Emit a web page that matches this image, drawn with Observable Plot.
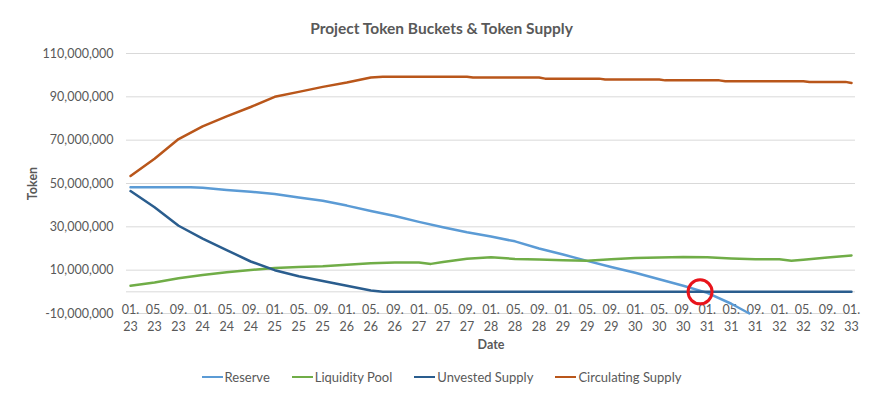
<!DOCTYPE html>
<html><head><meta charset="utf-8">
<script src="https://cdn.jsdelivr.net/npm/d3@7"></script>
<script src="https://cdn.jsdelivr.net/npm/@observablehq/plot@0.6"></script>
<style>
body{margin:0;background:#fff;font-family:Lato,"Open Sans",sans-serif;}
#wrap{width:883px;height:397px;position:relative;overflow:hidden;background:#fff}
#title{position:absolute;top:18px;left:0;width:883px;text-align:center;font-size:15.5px;font-weight:bold;color:#595959;line-height:20px}
#chart{position:absolute;top:40px;left:0}
#legend{position:absolute;top:368px;left:0;width:883px;display:flex;justify-content:center;gap:22px;font-size:13px;color:#595959;line-height:18px}
#legend .item{display:flex;align-items:center}
#legend .sw{display:inline-block;width:21px;height:2.5px;margin-right:2px}
</style></head><body>
<div id="wrap">
  <div id="title">Project Token Buckets &amp; Token Supply</div>
  <div id="chart"></div>
  <div id="legend"></div>
</div>
<script>
// Month index: 0 = Jan 2023 ... 120 = Jan 2033. Values in millions of tokens.
const tickMonths = [0,4,8,12,16,20,24,28,32,36,40,44,48,52,56,60,64,68,72,76,80,84,88,92,96,100,104,108,112,116,120];
const tickLabels = ["01.\n23","05.\n23","09.\n23","01.\n24","05.\n24","09.\n24","01.\n25","05.\n25","09.\n25","01.\n26","05.\n26","09.\n26","01.\n27","05.\n27","09.\n27","01.\n28","05.\n28","09.\n28","01.\n29","05.\n29","09.\n29","01.\n30","05.\n30","09.\n30","01.\n31","05.\n31","09.\n31","01.\n32","05.\n32","09.\n32","01.\n33"];
const yTicks = [-10,10,30,50,70,90,110];

const seriesNames = ["Reserve","Liquidity Pool","Unvested Supply","Circulating Supply"];
const seriesColors = ["#5B9BD5","#70AD47","#2A5D8E","#B9561A"];

const reserveMonth = [0,4,8,10,12,16,20,24,28,32,36,40,44,48,52,56,60,64,68,72,76,80,84,88,92,96,100,103];
const reserveValue = [48.3,48.3,48.3,48.3,48.0,47.0,46.2,45.2,43.5,42.0,39.8,37.3,35.0,32.3,29.8,27.5,25.5,23.3,20.0,17.2,14.3,11.5,8.8,5.8,2.8,-0.5,-5.5,-10.0];

const liquidityMonth = [0,4,8,12,16,20,24,28,32,36,40,44,48,50,52,56,60,64,68,72,76,80,84,88,92,96,100,104,108,110,112,116,120];
const liquidityValue = [2.8,4.3,6.3,7.8,9.0,10.1,11.0,11.5,11.8,12.5,13.2,13.5,13.5,12.9,13.8,15.3,16.0,15.2,14.9,14.6,14.4,15.0,15.6,15.9,16.1,16.0,15.4,15.0,15.0,14.4,14.8,15.8,16.8];

const unvestedMonth = [0,4,8,12,16,20,24,28,32,36,40,42,120];
const unvestedValue = [46.5,39.0,30.5,24.6,19.3,14.0,10.0,7.2,5.0,2.8,0.6,0,0];

const circulatingMonth = [0,4,8,12,16,20,24,28,32,36,40,42,56,57,68,69,78,79,88,89,98,99,112,113,119,120];
const circulatingValue = [53.5,61.4,70.5,76.4,81.0,85.3,90.0,92.3,94.6,96.6,98.9,99.3,99.3,98.9,98.9,98.4,98.4,98.0,98.0,97.6,97.6,97.2,97.2,96.9,96.9,96.4];

const markerMonth = [94.8];
const markerValue = [0];

const M = 1e6;
const build = (months, values) => months.map((m, i) => ({month: m, value: values[i] * M}));
const data = [
  build(reserveMonth, reserveValue),
  build(liquidityMonth, liquidityValue),
  build(unvestedMonth, unvestedValue),
  build(circulatingMonth, circulatingValue)
];
const marker = build(markerMonth, markerValue);
const ticks = tickMonths.map((m, i) => ({month: m, label: tickLabels[i]}));
const fmt = d3.formatLocale({decimal: ".", thousands: ",", grouping: [3], currency: ["$", ""], minus: "-"}).format(",");

const chart = Plot.plot({
  width: 883,
  height: 320,
  marginLeft: 126,
  marginRight: 28,
  marginTop: 13,
  marginBottom: 47,
  style: {fontFamily: "Lato, 'Open Sans', sans-serif", fontSize: "12.5px", color: "#595959", background: "transparent"},
  x: {type: "linear", domain: [-0.67, 120.67], label: null, axis: null},
  y: {domain: [-10 * M, 110 * M], label: null},
  marks: [
    Plot.gridY(yTicks.map(v => v * M), {stroke: "#d9d9d9", strokeOpacity: 1}),
    Plot.ruleY([0], {stroke: "#d9d9d9", strokeWidth: 1}),
    Plot.axisY(yTicks.map(v => v * M), {tickFormat: fmt, tickSize: 0, tickPadding: 13, label: null, fontSize: 12.5}),
    Plot.text(ticks, {x: "month", y: () => 0, text: "label", dy: 25.5, lineAnchor: "middle", lineHeight: 1.38, fontSize: 12.5, fill: "#595959"}),
    ...data.map((d, i) => Plot.lineY(d, {x: "month", y: "value", stroke: seriesColors[i], strokeWidth: 2.5})),
    Plot.dot(marker, {x: "month", y: "value", r: 12, stroke: "#E8141B", strokeWidth: 3, fill: "none"}),
    Plot.text(["Date"], {text: d => d, frameAnchor: "bottom", dy: 35, fontWeight: "bold", fontSize: 12.5, fill: "#595959"}),
    Plot.text(["Token"], {text: d => d, frameAnchor: "left", dx: -94, rotate: -90, textAnchor: "middle", fontWeight: "bold", fontSize: 12.5, fill: "#595959"})
  ]
});
document.getElementById("chart").appendChild(chart);

const legend = document.getElementById("legend");
seriesNames.forEach((name, i) => {
  const item = document.createElement("div");
  item.className = "item";
  const sw = document.createElement("span");
  sw.className = "sw";
  sw.style.background = seriesColors[i];
  const lab = document.createElement("span");
  lab.textContent = name;
  item.appendChild(sw);
  item.appendChild(lab);
  legend.appendChild(item);
});
</script>
</body></html>
